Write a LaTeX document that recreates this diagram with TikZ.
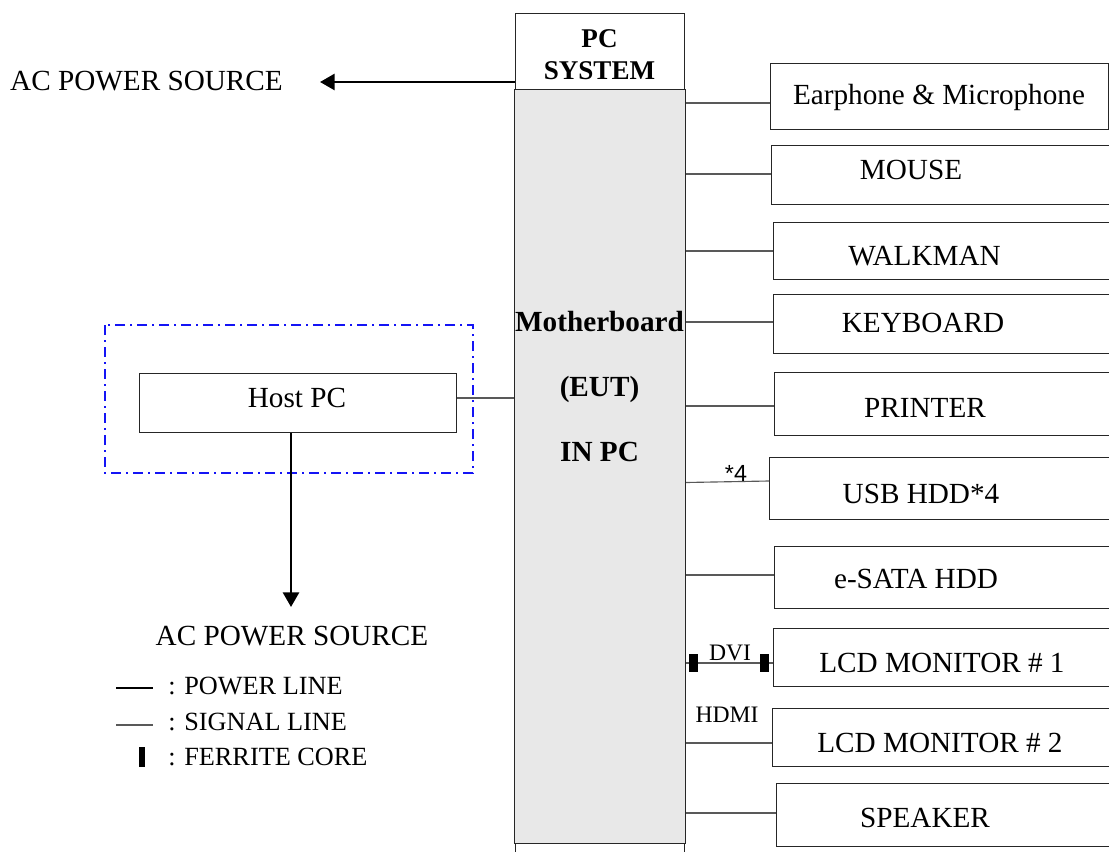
\documentclass[tikz,border=0pt]{standalone}
\usepackage{fontspec}
\setmainfont{Liberation Serif}
\newfontfamily\arialf{Liberation Sans}
\usetikzlibrary{arrows.meta}
\definecolor{mbgray}{RGB}{232,232,232}
\definecolor{hostblue}{RGB}{20,20,245}
\begin{document}
\begin{tikzpicture}[x=0.75pt,y=-0.75pt,
  bx/.style={draw=black!85, line width=0.9pt, inner sep=0, anchor=north west},
  sig/.style={draw=black!65, line width=0.85pt},
  pwr/.style={draw=black, line width=2.1pt},
  parr/.style={pwr, -{Triangle[length=11pt,width=12pt]}},
  fer/.style={fill=black, draw=none, inner sep=0, minimum width=6.75pt, minimum height=13.5pt},
  txt/.style={font=\fontsize{21.9}{26}\selectfont, inner sep=0, anchor=base},
  btxt/.style={font=\fontsize{21.9}{26}\selectfont\bfseries, inner sep=0, anchor=base},
  ptxt/.style={font=\fontsize{20.3}{24}\selectfont\bfseries, inner sep=0, anchor=base},
  ltxt/.style={font=\fontsize{19.7}{23}\selectfont, inner sep=0, anchor=base west},
  stxt/.style={font=\fontsize{17.7}{21}\selectfont, inner sep=0, anchor=base},
  atxt/.style={font=\fontsize{17.5}{21}\selectfont\arialf, inner sep=0, anchor=base}]
\useasboundingbox (0,0) rectangle (1109,852);
\clip (0,0) rectangle (1109,852);

% PC system column
\node[bx, minimum width=126.75pt, minimum height=650pt] (pcsys) at (515,13) {};
\node[bx, fill=mbgray, minimum width=128.25pt, minimum height=565.5pt] (mb) at (514,89) {};
\node[ptxt] (pct1) at (599.5,48) {PC};
\node[ptxt] (pct2) at (599.5,80) {SYSTEM};
\node[btxt] (mbt1) at (599.5,331) {Motherboard};
\node[btxt] (mbt2) at (599.5,396) {(EUT)};
\node[btxt] (mbt3) at (599.5,461) {IN PC};

% top AC power
\node[txt] (ac1) at (146.5,91) {AC POWER SOURCE};
\coordinate (tip1) at (320,82);
\draw[parr] (pcsys.west |- tip1) -- (tip1);

% host PC
\draw[draw=hostblue, line width=1.1pt, dash pattern=on 7.5pt off 3.75pt on 1.5pt off 3.75pt]
  (105,325) rectangle (473,473);
\node[bx, minimum width=237.75pt, minimum height=44.25pt] (host) at (139,373) {};
\node[txt] (hostt) at (297,407) {Host PC};
\draw[sig] (host.east |- 0,398) -- (mb.west |- 0,398);
\coordinate (tip2) at (291,607);
\draw[parr] (tip2 |- host.south) -- (tip2);
\node[txt] (ac2) at (292,645) {AC POWER SOURCE};

% right-hand devices
\node[bx, minimum width=253.5pt, minimum height=49.5pt] (ear) at (770,63) {};
\node[bx, minimum width=280pt, minimum height=44.25pt] (mouse) at (771,145) {};
\node[bx, minimum width=280pt, minimum height=42.75pt] (walk) at (773,222) {};
\node[bx, minimum width=280pt, minimum height=44.25pt] (kbd) at (773,294) {};
\node[bx, minimum width=280pt, minimum height=47.25pt] (prn) at (774,372) {};
\node[bx, minimum width=280pt, minimum height=46.5pt] (usb) at (769,457) {};
\node[bx, minimum width=280pt, minimum height=46.5pt] (sata) at (774,546) {};
\node[bx, minimum width=280pt, minimum height=43.5pt] (lcda) at (773,628) {};
\node[bx, minimum width=280pt, minimum height=43.5pt] (lcdb) at (772,708) {};
\node[bx, minimum width=280pt, minimum height=47.25pt] (spk) at (776,783) {};

\node[txt] (eart) at (939,105) {Earphone \& Microphone};
\node[txt] (mouset) at (911,180) {MOUSE};
\node[txt] (walkt) at (924.5,265) {WALKMAN};
\node[txt] (kbdt) at (923,332) {KEYBOARD};
\node[txt] (prnt) at (925,417) {PRINTER};
\node[txt] (usbt) at (921,503) {USB HDD*4};
\node[txt] (satat) at (916,588) {e-SATA HDD};
\node[txt] (lcdat) at (942,672) {LCD MONITOR \# 1};
\node[txt] (lcdbt) at (940,752) {LCD MONITOR \# 2};
\node[txt] (spkt) at (925,827) {SPEAKER};

\draw[sig] (mb.east |- 0,103) -- (ear.west |- 0,103);
\draw[sig] (mb.east |- 0,174) -- (mouse.west |- 0,174);
\draw[sig] (mb.east |- 0,251) -- (walk.west |- 0,251);
\draw[sig] (mb.east |- 0,322) -- (kbd.west |- 0,322);
\draw[sig] (mb.east |- 0,406) -- (prn.west |- 0,406);
\draw[sig] (mb.east |- 0,482.5) -- (usb.west |- 0,481);
\draw[sig] (mb.east |- 0,575) -- (sata.west |- 0,575);
\draw[sig] (mb.east |- 0,663) -- (lcda.west |- 0,663);
\draw[sig] (mb.east |- 0,743) -- (lcdb.west |- 0,743);
\draw[sig] (mb.east |- 0,813) -- (spk.west |- 0,813);

\node[atxt] (usbl) at (736,481) {*4};
\node[stxt] (dvil) at (730,660) {DVI};
\node[stxt] (hdmil) at (727,722) {HDMI};
\node[fer] (fa) at (693.5,663) {};
\node[fer] (fb) at (764.5,663) {};

% legend
\draw[pwr] (116,688) -- (153,688);
\draw[sig] (116,725) -- (153,725);
\node[fer, minimum width=4.5pt, minimum height=15pt] (fl) at (142,757) {};
\node[ltxt] (l1) at (168,694) {: POWER LINE};
\node[ltxt] (l2) at (168,730) {: SIGNAL LINE};
\node[ltxt] (l3) at (168,765) {: FERRITE CORE};
\end{tikzpicture}
\end{document}
